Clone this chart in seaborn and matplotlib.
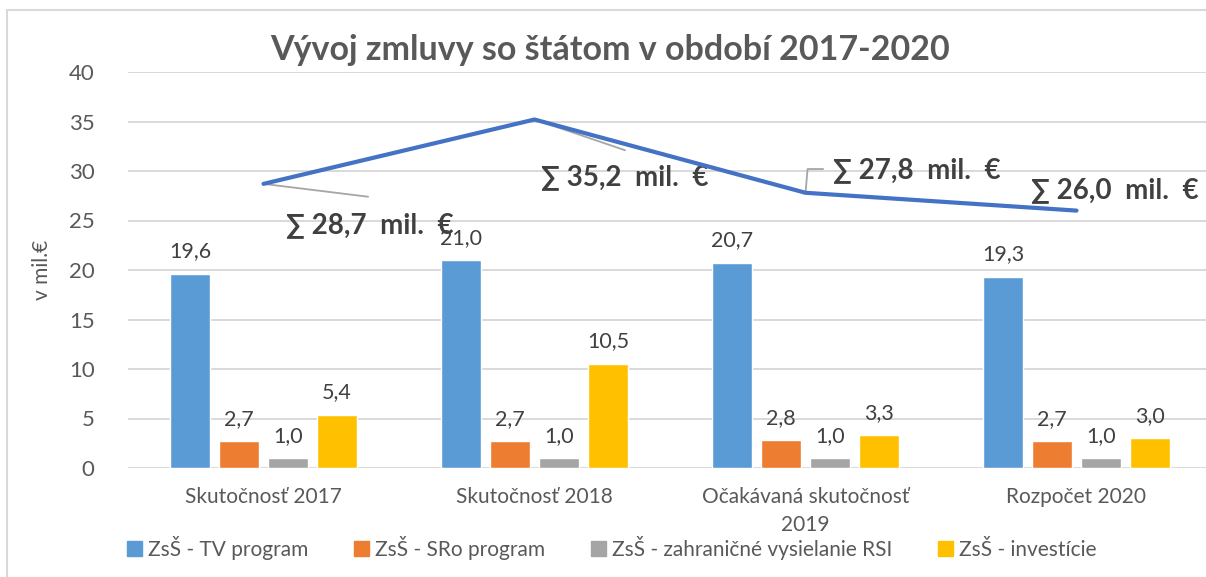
import numpy as np
import pandas as pd
import matplotlib
matplotlib.use("Agg")
import matplotlib.pyplot as plt
from matplotlib.patches import Rectangle
import seaborn as sns

categories = ["Skutočnosť 2017", "Skutočnosť 2018", "Očakávaná skutočnosť\n2019", "Rozpočet 2020"]
series_names = ["ZsŠ - TV program", "ZsŠ - SRo program", "ZsŠ - zahraničné vysielanie RSI", "ZsŠ - investície"]
tv_program = [19.6, 21.0, 20.7, 19.3]
sro_program = [2.7, 2.7, 2.8, 2.7]
rsi = [1.0, 1.0, 1.0, 1.0]
investicie = [5.4, 10.5, 3.3, 3.0]
totals = [28.7, 35.2, 27.8, 26.0]
y_ticks = [0, 5, 10, 15, 20, 25, 30, 35, 40]
title = "Vývoj zmluvy so štátom v období 2017-2020"
y_label = "v mil.€"

colors = ["#5B9BD5", "#ED7D31", "#A5A5A5", "#FFC000"]
line_color = "#4472C4"
txt = "#595959"
dark = "#404040"
grid_c = "#D9D9D9"

sns.set_theme(style="white")
plt.rcParams["font.family"] = ["Lato", "DejaVu Sans"]

df = pd.DataFrame({
    "cat": np.repeat(categories, 4),
    "series": series_names * 4,
    "value": np.array([tv_program, sro_program, rsi, investicie]).T.ravel(),
})

W, H = 1206, 577
fig = plt.figure(figsize=(W / 100, H / 100), dpi=100)
ax = fig.add_axes([128 / W, (H - 468) / H, (1212 - 128) / W, (468 - 72) / H])

sns.barplot(data=df, x="cat", y="value", hue="series", order=categories,
            hue_order=series_names, palette=colors, width=0.723, gap=0.2,
            saturation=1, ax=ax, legend=False, errorbar=None)

for cont in ax.containers:
    vals = [b.get_height() for b in cont]
    ax.bar_label(cont, labels=[f"{v:.1f}".replace(".", ",") for v in vals],
                 padding=9, fontsize=15.5, color=dark)

sns.lineplot(x=np.arange(len(totals)), y=totals, color=line_color, lw=3.0,
             ax=ax, zorder=5)

ax.set_xlim(-0.5, len(categories) - 0.5)
ax.set_ylim(0, 40)
ax.set_yticks(y_ticks)
ax.set_yticklabels([str(t) for t in y_ticks])
ax.grid(axis="y", color=grid_c, lw=1.4)
ax.set_axisbelow(True)
for s in ax.spines.values():
    s.set_visible(False)
ax.tick_params(axis="y", length=0, labelsize=16, labelcolor=txt, pad=24)
ax.tick_params(axis="x", length=0, labelsize=15, labelcolor=txt, pad=14)
for t in ax.get_xticklabels():
    t.set_linespacing(1.5)
ax.set_xlabel("")
ax.set_ylabel("")

def lab(v):
    return f"∑ {v:.1f}  mil.  €".replace(".", ",", 1)

ann_style = dict(fontsize=20, fontweight="bold", color=dark, ha="center", va="center")
lead = dict(arrowstyle="-", color="#A5A5A5", lw=1.3, shrinkA=0, shrinkB=0)

# leader lines (from total point to label)
ax.annotate("", xy=(0, totals[0]), xytext=(0.386, 27.4), arrowprops=lead)
ax.annotate("", xy=(1, totals[1]), xytext=(1.334, 32.1), arrowprops=lead)
ax.annotate("", xy=(2, totals[2]), xytext=(2.065, 30.2),
            arrowprops=dict(lead, connectionstyle="angle,angleA=180,angleB=85,rad=0"))

# total labels
ax.text(0.393, 24.5, lab(totals[0]), **ann_style)
ax.text(1.334, 29.4, lab(totals[1]), **ann_style)
ax.text(2.41, 30.1, lab(totals[2]), **ann_style)
ax.text(3.14, 28.1, lab(totals[3]), **ann_style)

fig.text(610 / W, 1 - 50 / H, title, ha="center", va="center", fontsize=24.5,
         fontweight="bold", color=txt)
fig.text(42 / W, 1 - 270 / H, y_label, rotation=90, ha="center", va="center",
         fontsize=15, color=txt)

handles = [Rectangle((0, 0), 1, 1, color=c) for c in colors]
fig.legend(handles, series_names, loc="center", bbox_to_anchor=(612 / W, (H - 548) / H),
           ncol=4, frameon=False, fontsize=15, labelcolor=txt, handlelength=0.7,
           handleheight=0.7, handletextpad=0.3, columnspacing=2.2)

fig.patches.append(Rectangle((7 / W, -0.1), 1.2, (H - 10) / H + 0.1, transform=fig.transFigure,
                             fill=False, edgecolor=grid_c, lw=1.5))

fig.savefig("out.png", dpi=100)
